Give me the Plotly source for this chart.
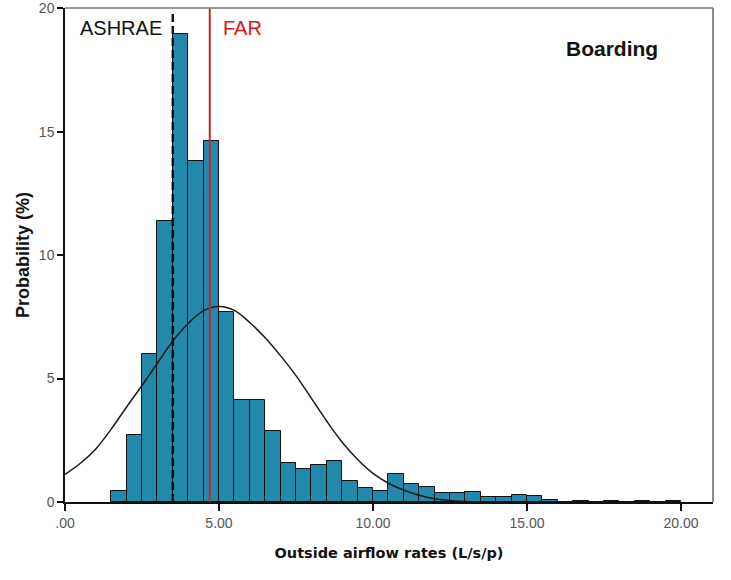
import plotly.graph_objects as go

# Histogram bins (left edges, width 0.5) and probabilities (%)
bin_left = [1.5, 2.0, 2.5, 3.0, 3.5, 4.0, 4.5, 5.0, 5.5, 6.0, 6.5, 7.0, 7.5, 8.0, 8.5,
            9.0, 9.5, 10.0, 10.5, 11.0, 11.5, 12.0, 12.5, 13.0, 13.5, 14.0, 14.5, 15.0,
            15.5, 16.0, 16.5, 17.0, 17.5, 18.0, 18.5, 19.0, 19.5]
prob = [0.43, 2.72, 6.0, 11.37, 18.95, 13.83, 14.62, 7.68, 4.13, 4.15, 2.87, 1.59, 1.34, 1.5, 1.67,
        0.86, 0.58, 0.46, 1.12, 0.74, 0.59, 0.38, 0.38, 0.41, 0.22, 0.22, 0.29, 0.25,
        0.09, 0.0, 0.04, 0.0, 0.04, 0.0, 0.04, 0.0, 0.04]
bin_width = 0.5

# Fitted normal curve
curve_x = [0, 0.5, 1, 1.5, 2, 2.5, 3, 3.5, 4, 4.5, 5, 5.5, 6, 6.5, 7, 7.5, 8, 8.5, 9, 9.5,
           10, 10.5, 11, 11.5, 12, 12.5, 13, 13.5, 14]
curve_y = [1.12, 1.57, 2.15, 2.95, 3.85, 4.72, 5.62, 6.52, 7.23, 7.75, 7.92, 7.76, 7.27, 6.65, 5.92,
           5.12, 4.2, 3.27, 2.42, 1.72, 1.16, 0.76, 0.48, 0.27, 0.13, 0.06, 0.025, 0.01, 0.0]

ashrae_x = 3.5
far_x = 4.7

x_ticks = [0, 5, 10, 15, 20]
x_ticktext = [".00", "5.00", "10.00", "15.00", "20.00"]
y_ticks = [0, 5, 10, 15, 20]

fig = go.Figure()

fig.add_trace(go.Bar(
    x=[b + bin_width / 2 for b in bin_left], y=prob, width=bin_width,
    marker=dict(color="#2389ab", line=dict(color="#111111", width=1)),
    showlegend=False, hoverinfo="skip"))

fig.add_trace(go.Scatter(
    x=curve_x, y=curve_y, mode="lines", line=dict(color="#1a1a1a", width=1.5, shape="spline"),
    showlegend=False, hoverinfo="skip"))

fig.add_trace(go.Scatter(
    x=[ashrae_x, ashrae_x], y=[0, 19.8], mode="lines",
    line=dict(color="#111111", width=2.5, dash="8px,4px"), showlegend=False, hoverinfo="skip"))

fig.add_trace(go.Scatter(
    x=[far_x, far_x], y=[0, 20], mode="lines",
    line=dict(color="#c0282d", width=2), showlegend=False, hoverinfo="skip"))

# top/right frame lines (gray)
fig.add_shape(type="line", xref="paper", yref="paper", x0=0, x1=1, y0=1, y1=1,
              line=dict(color="#777777", width=1.5))
fig.add_shape(type="line", xref="paper", yref="paper", x0=1, x1=1, y0=0, y1=1,
              line=dict(color="#666666", width=1.5))

fig.add_annotation(x=1.82, y=19.2, text="ASHRAE", showarrow=False,
                   font=dict(family="Liberation Sans, Arial", size=20, color="#111111"))
fig.add_annotation(x=5.75, y=19.2, text="FAR", showarrow=False,
                   font=dict(family="Liberation Sans, Arial", size=20, color="#e0141e"))
fig.add_annotation(x=17.76, y=18.35, text="<b>Boarding</b>", showarrow=False,
                   font=dict(family="Liberation Sans, Arial", size=21, color="#111111"))

fig.update_layout(
    width=731, height=580,
    margin=dict(l=65, r=18, t=8, b=78),
    paper_bgcolor="white", plot_bgcolor="white",
    bargap=0,
    xaxis=dict(range=[0, 21.04], tickvals=x_ticks, ticktext=x_ticktext, automargin=False,
               showgrid=False, zeroline=False, showline=True, linecolor="#111111", linewidth=1.5,
               ticks="outside", ticklen=7, tickcolor="#111111", tickwidth=1.5,
               tickfont=dict(family="Liberation Sans, Arial", size=14, color="#555555"),
               title=dict(text="<b>Outside airflow rates (L/s/p)</b>", standoff=18,
                          font=dict(family="DejaVu Sans", size=14.5, color="#111111"))),
    yaxis=dict(range=[0, 20.01], tickvals=y_ticks, automargin=False,
               showgrid=False, zeroline=False, showline=True, linecolor="#111111", linewidth=1.5,
               ticks="outside", ticklen=6, tickcolor="#111111", tickwidth=1.5,
               tickfont=dict(family="Liberation Sans, Arial", size=14, color="#555555"),
               title=dict(text="<b>Probability (%)</b>", standoff=5,
                          font=dict(family="Liberation Sans, Arial", size=18, color="#111111"))),
)

fig.write_html("out.html")
